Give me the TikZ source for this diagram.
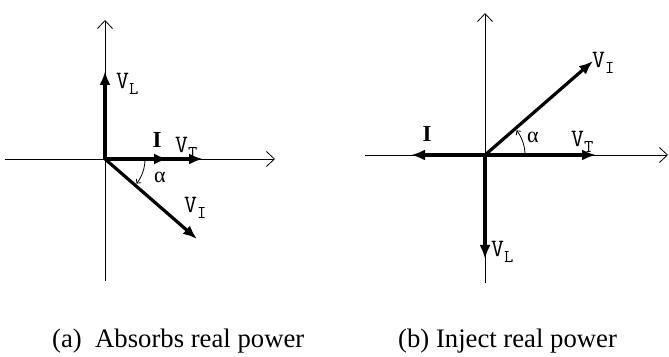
\documentclass[tikz,border=0pt]{standalone}
\usepackage{fontspec}
\setmainfont{Liberation Serif}
\usepackage{tikz}
\usetikzlibrary{arrows.meta, positioning}
\newcommand{\vsub}[2]{#1\raisebox{-0.5ex}{\fontsize{18}{18}\selectfont #2}}

\begin{document}
\begin{tikzpicture}[x=1pt, y=1pt,
  axisline/.style={line width=0.8pt, -{Straight Barb[length=8pt, width=15pt]}},
  phasor/.style={line width=3.2pt, -{Latex[length=14pt, width=11pt]}},
  anglearc/.style={line width=0.8pt, -{Straight Barb[length=3pt, width=6pt]}},
  lbl/.style={inner sep=0pt, font=\ttfamily\fontsize{25}{25}\selectfont},
  cur/.style={inner sep=0pt, anchor=base, font=\bfseries\fontsize{23}{23}\selectfont},
  alph/.style={inner sep=0pt, font=\fontsize{22}{22}\selectfont},
  capt/.style={inner sep=0pt, anchor=base west, font=\fontsize{26.7}{30}\selectfont}]
  \useasboundingbox (0,0) rectangle (669,356);
  % (a) absorbs real power
  \begin{scope}[shift={(105,197)}]
    \coordinate (oa) at (0,0);
    \coordinate (xa0) at (-100,0);
    \coordinate (xa1) at (170,0);
    \coordinate (ya0) at (0,-122);
    \coordinate (ya1) at (0,139);
    \coordinate (vla) at (0,88);
    \coordinate (ia) at (63,0);
    \coordinate (vta) at (98,0);
    \coordinate (via) at (92,-80);
    \draw[axisline] (xa0) -- (xa1);
    \draw[axisline] (ya0) -- (ya1);
    \draw[phasor] (oa) -- (vla);
    \draw[phasor] (oa) -- (vta);
    \draw[phasor] (oa) -- (ia);
    \draw[phasor] (oa) -- (via);
    \draw[anglearc] (0:40) arc (0:-38:40);
    \node[lbl, anchor=base west] (vlalbl) at (11,70) {\vsub{V}{L}};
    \node[cur] (ialbl) at (52,11) {I};
    \node[lbl, anchor=base west] (vtalbl) at (70,6) {\vsub{V}{T}};
    \node[lbl, anchor=base west] (vialbl) at (79,-54) {\vsub{V}{I}};
    \node[alph] (alpa) at (55,-18) {α};
  \end{scope}
  % (b) inject real power
  \begin{scope}[shift={(485,201)}]
    \coordinate (ob) at (0,0);
    \coordinate (xb0) at (-120,0);
    \coordinate (xb1) at (183,0);
    \coordinate (yb0) at (0,-128);
    \coordinate (yb1) at (0,142);
    \coordinate (vlb) at (0,-104);
    \coordinate (ib) at (-74,0);
    \coordinate (vtb) at (111,0);
    \coordinate (vib) at (108,94);
    \draw[axisline] (xb0) -- (xb1);
    \draw[axisline] (yb0) -- (yb1);
    \draw[phasor] (ob) -- (vlb);
    \draw[phasor] (ob) -- (ib);
    \draw[phasor] (ob) -- (vtb);
    \draw[phasor] (ob) -- (vib);
    \draw[anglearc] (0:40) arc (0:38:40);
    \node[lbl, anchor=base west] (viblbl) at (107,87) {\vsub{V}{I}};
    \node[cur] (iblbl) at (-58,13) {I};
    \node[lbl, anchor=base west] (vtblbl) at (86,8) {\vsub{V}{T}};
    \node[lbl, anchor=base west] (vlblbl) at (6,-102) {\vsub{V}{L}};
    \node[alph] (alpb) at (48,18) {α};
  \end{scope}
  % captions
  \node[capt] (capa) at (52,9) {(a)\ \ Absorbs real power};
  \node[capt] (capb) at (398,9) {(b) Inject real power};
\end{tikzpicture}
\end{document}
